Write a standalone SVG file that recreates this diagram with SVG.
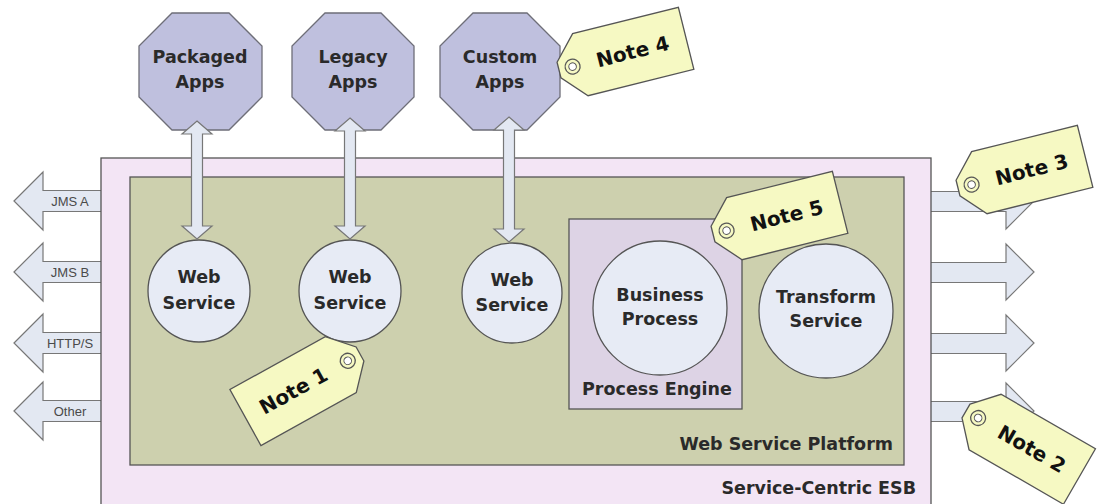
<svg xmlns="http://www.w3.org/2000/svg" width="1102" height="504" viewBox="0 0 1102 504">
<style>
.oct{fill:#bfc0de;stroke:#6e6e78;stroke-width:1.3}
.circ{fill:#e7ebf5;stroke:#555;stroke-width:1.3}
.arr{fill:#e3e8f2;stroke:#777;stroke-width:1.2}
.tag{fill:#f6f9c3;stroke:#555;stroke-width:1.3}
.ring{fill:none;stroke:#555;stroke-width:1.3}
.hole{fill:#fff;stroke:#555;stroke-width:1}
.lbl{font-family:"DejaVu Sans",Verdana,sans-serif;font-weight:bold;font-size:17.5px;fill:#2a2a2a;text-anchor:middle}
.note{font-family:"DejaVu Sans",Verdana,sans-serif;font-weight:bold;font-size:20px;fill:#111;text-anchor:middle}
.small{font-family:"Liberation Sans",Arial,sans-serif;font-size:13px;fill:#4a4a4a;text-anchor:middle}
</style>
<defs>
<g id="tagshape">
<path class="tag" d="M0,-8 L22,-32 L131,-32 L131,32 L22,32 L0,8 Z"/>
<circle class="ring" cx="14" cy="0" r="7.5"/>
<circle class="hole" cx="14" cy="0" r="3.8"/>
</g>
</defs>
<rect width="1102" height="504" fill="#fff"/>
<g id="connectors-ports">
<path class="arr" d="M14,201 L43,172 L43,190.5 L105,190.5 L105,211.5 L43,211.5 L43,230 Z"/>
<path class="arr" d="M14,272 L43,243 L43,261.5 L105,261.5 L105,282.5 L43,282.5 L43,301 Z"/>
<path class="arr" d="M14,343 L43,314 L43,332.5 L105,332.5 L105,353.5 L43,353.5 L43,372 Z"/>
<path class="arr" d="M14,411 L43,382 L43,400.5 L105,400.5 L105,421.5 L43,421.5 L43,440 Z"/>
<path class="arr" d="M925,191.5 L1006,191.5 L1006,173 L1034,201 L1006,229 L1006,211.5 L925,211.5 Z"/>
<path class="arr" d="M925,262.5 L1006,262.5 L1006,244 L1034,272 L1006,300 L1006,282.5 L925,282.5 Z"/>
<path class="arr" d="M925,333.5 L1006,333.5 L1006,315 L1034,343 L1006,371 L1006,353.5 L925,353.5 Z"/>
<path class="arr" d="M925,401.5 L1006,401.5 L1006,383 L1034,411 L1006,439 L1006,421.5 L925,421.5 Z"/>
<text class="small" x="70" y="205.5">JMS A</text>
<text class="small" x="70" y="276.5">JMS B</text>
<text class="small" x="70" y="347.5">HTTP/S</text>
<text class="small" x="70" y="415.5">Other</text>
</g>
<g id="esb">
<rect x="101" y="158" width="830" height="360" fill="#f3e5f5" stroke="#555" stroke-width="1.3"/>
<text class="lbl" x="916" y="494" style="text-anchor:end">Service-Centric ESB</text>
</g>
<g id="platform">
<rect x="130" y="177" width="774" height="288" fill="#cdd0ae" stroke="#555" stroke-width="1.3"/>
<text class="lbl" x="893" y="450" style="text-anchor:end">Web Service Platform</text>
</g>
<g id="process-engine">
<rect x="569" y="219" width="173" height="190" fill="#ddd3e5" stroke="#555" stroke-width="1.3"/>
<text class="lbl" x="657" y="395">Process Engine</text>
</g>
<g id="business-process">
<circle class="circ" cx="660" cy="308" r="67"/>
<text class="lbl" x="660" y="301">Business</text>
<text class="lbl" x="660" y="325">Process</text>
</g>
<g id="transform-service">
<circle class="circ" cx="826" cy="311" r="67"/>
<text class="lbl" x="826" y="303">Transform</text>
<text class="lbl" x="826" y="327">Service</text>
</g>
<g id="web-service-1">
<circle class="circ" cx="199" cy="291" r="51"/>
<text class="lbl" x="199" y="283">Web</text>
<text class="lbl" x="199" y="309">Service</text>
</g>
<g id="web-service-2">
<circle class="circ" cx="350" cy="291" r="51"/>
<text class="lbl" x="350" y="283">Web</text>
<text class="lbl" x="350" y="309">Service</text>
</g>
<g id="web-service-3">
<circle class="circ" cx="512" cy="293" r="50"/>
<text class="lbl" x="512" y="286">Web</text>
<text class="lbl" x="512" y="311">Service</text>
</g>
<g id="packaged-apps">
<polygon class="oct" points="172,13 229,13 262,46 262,97 229,130 172,130 139,97 139,46"/>
<text class="lbl" x="200" y="63">Packaged</text>
<text class="lbl" x="200" y="88">Apps</text>
</g>
<g id="legacy-apps">
<polygon class="oct" points="325,13 381,13 414,46 414,97 381,130 325,130 292,97 292,46"/>
<text class="lbl" x="353" y="63">Legacy</text>
<text class="lbl" x="353" y="88">Apps</text>
</g>
<g id="custom-apps">
<polygon class="oct" points="473,13 527,13 560,46 560,97 527,130 473,130 440,97 440,46"/>
<text class="lbl" x="500" y="63">Custom</text>
<text class="lbl" x="500" y="88">Apps</text>
</g>
<g id="connectors">
<path class="arr" d="M197,121 L212,134 L202.5,134 L202.5,226 L212,226 L197,239 L182,226 L191.5,226 L191.5,134 L182,134 Z"/>
<path class="arr" d="M350,118 L365,131 L355.5,131 L355.5,226 L365,226 L350,239 L335,226 L344.5,226 L344.5,131 L335,131 Z"/>
<path class="arr" d="M509,117 L524,130 L514.5,130 L514.5,229 L524,229 L509,242 L494,229 L503.5,229 L503.5,130 L494,130 Z"/>
</g>
<g id="note-1" transform="translate(360,354) rotate(151)">
<use href="#tagshape"/>
<text class="note" transform="translate(76,0) rotate(180)" y="7">Note 1</text>
</g>
<g id="note-2" transform="translate(966,411) rotate(30)">
<use href="#tagshape"/>
<text class="note" x="76" y="7">Note 2</text>
</g>
<g id="note-3" transform="translate(958,188) rotate(-14)">
<use href="#tagshape"/>
<text class="note" x="76" y="7">Note 3</text>
</g>
<g id="note-4" transform="translate(559,70) rotate(-14)">
<use href="#tagshape"/>
<text class="note" x="76" y="7">Note 4</text>
</g>
<g id="note-5" transform="translate(713,234) rotate(-14)">
<use href="#tagshape"/>
<text class="note" x="76" y="7">Note 5</text>
</g>
</svg>
